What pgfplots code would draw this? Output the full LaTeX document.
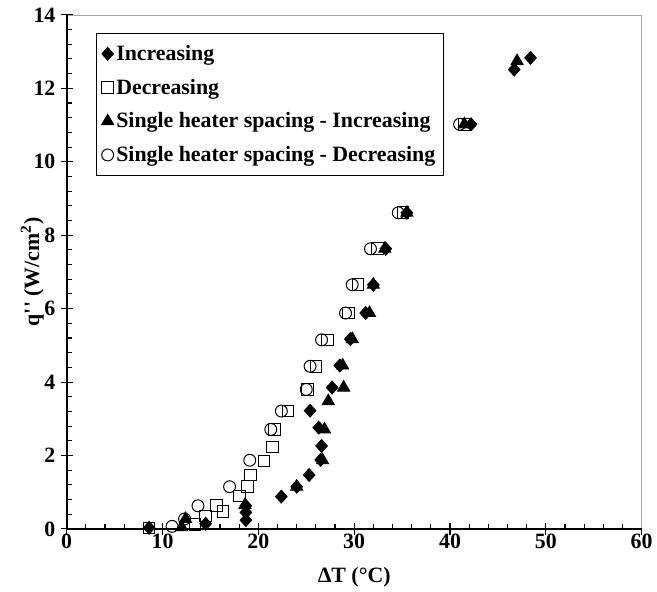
\documentclass[border=0pt]{standalone}
\usepackage{fontspec}
\setmainfont{Liberation Serif}
\usepackage{pgfplots}
\pgfplotsset{compat=1.18}

% Increasing (diamonds)
\pgfplotstableread{
x y
8.6 0.03
14.5 0.14
18.7 0.24
18.7 0.45
18.7 0.63
22.4 0.88
24.0 1.15
25.3 1.47
26.5 1.88
26.6 2.26
26.3 2.76
25.4 3.22
27.7 3.85
28.5 4.45
29.6 5.17
31.2 5.88
32.0 6.65
33.3 7.63
35.5 8.61
42.2 11.02
46.7 12.51
48.4 12.83
}\incr

% Decreasing (squares)
\pgfplotstableread{
x y
8.6 0.03
13.4 0.12
14.5 0.35
15.6 0.63
16.3 0.48
18.05 0.90
18.9 1.15
19.2 1.47
20.6 1.85
21.5 2.23
21.7 2.71
23.1 3.21
25.1 3.80
26.0 4.43
27.2 5.15
29.4 5.88
30.4 6.65
32.4 7.63
35.1 8.61
41.5 11.02
}\decr

% Single heater spacing - Increasing (triangles)
\pgfplotstableread{
x y
12.0 0.05
12.4 0.27
18.6 0.65
24.0 1.15
26.7 1.87
26.9 2.71
27.3 3.48
28.9 3.85
28.8 4.45
29.8 5.17
31.6 5.88
32.0 6.65
33.2 7.63
35.5 8.61
41.5 11.02
47.0 12.74
}\sincr

% Single heater spacing - Decreasing (circles)
\pgfplotstableread{
x y
11.0 0.07
12.3 0.27
13.7 0.63
17.0 1.15
19.1 1.87
21.3 2.71
22.4 3.21
25.0 3.80
25.4 4.43
26.6 5.15
29.1 5.88
29.8 6.65
31.7 7.63
34.6 8.61
41.0 11.02
}\sdecr

\begin{document}
\begin{tikzpicture}
\begin{axis}[
  scale only axis, width=434pt, height=388pt,
  xmin=0, xmax=60, ymin=0, ymax=14,
  xtick={0,10,...,60}, ytick={0,2,...,14},
  minor x tick num=4, minor y tick num=4,
  xtick pos=bottom, ytick pos=left,
  tick align=inside, major tick length=4.5pt, minor tick length=4pt,
  extra x ticks={0,10,...,60}, extra y ticks={0,2,...,14},
  extra x tick labels={}, extra y tick labels={},
  extra tick style={tick align=outside, major tick length=4.5pt},
  tick style={black, line width=0.8pt},
  axis line style={draw=gray!70, line width=0.6pt},
  /pgf/number format/assume math mode=true,
  tick label style={font=\fontsize{16.5}{19}\selectfont\bfseries},
  yticklabel style={xshift=-5pt},
  xlabel={ΔT (°C)}, ylabel={q\textquotesingle\textquotesingle\ (W/cm\textsuperscript{2})},
  label style={font=\fontsize{16.5}{19}\selectfont\bfseries},
  ylabel style={at={(axis description cs:-0.06,0.5)}, anchor=center, rotate=0},
  xlabel style={yshift=-3pt},
  legend style={at={(0.051,0.965)}, anchor=north west, draw=black, line width=0.6pt,
    font=\fontsize{16.5}{19}\selectfont\bfseries, row sep=8.5pt,
    inner xsep=4pt, inner ysep=7pt},
  legend cell align=left,
  every axis plot/.append style={only marks, line width=0.75pt},
  clip=false,
]
\path (rel axis cs:-0.116,-0.116) rectangle (rel axis cs:1.017,1.029);
\addplot[mark=diamond*, mark size=4.8pt, mark options={xscale=1.2}, black] table {\incr};
\addlegendentry{Increasing}
\addplot[mark=square, mark size=4.4pt, black] table {\decr};
\addlegendentry{Decreasing}
\addplot[mark=triangle*, mark size=5.2pt, black] table {\sincr};
\addlegendentry{Single heater spacing - Increasing}
\addplot[mark=o, mark size=4.5pt, black] table {\sdecr};
\addlegendentry{Single heater spacing - Decreasing}
\draw[black, line width=1.6pt] (rel axis cs:0,1) -- (rel axis cs:0,0) -- (rel axis cs:1,0);
\end{axis}
\end{tikzpicture}
\end{document}
